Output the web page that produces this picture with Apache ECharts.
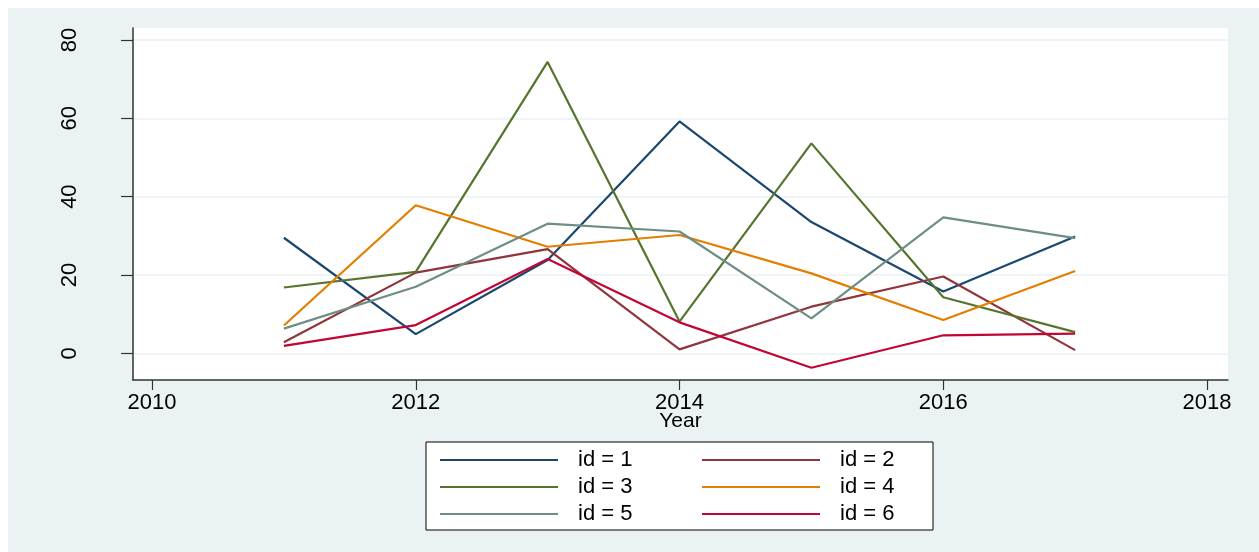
<!DOCTYPE html>
<html>
<head>
<meta charset="utf-8">
<script src="https://cdn.jsdelivr.net/npm/echarts@6/dist/echarts.min.js"></script>
<style>
html,body{margin:0;padding:0;background:#fff;}
#chart{width:1259px;height:552px;}
</style>
</head>
<body>
<div id="chart"></div>
<script>
const years = [2011, 2012, 2013, 2014, 2015, 2016, 2017];
const seriesNames = ['id = 1', 'id = 2', 'id = 3', 'id = 4', 'id = 5', 'id = 6'];
const id1 = [29.5, 4.9, 23.8, 59.2, 33.5, 15.8, 29.8];
const id2 = [2.8, 20.6, 26.6, 1.0, 11.9, 19.6, 0.8];
const id3 = [16.8, 20.8, 74.4, 8.1, 53.6, 14.3, 5.4];
const id4 = [7.1, 37.8, 27.2, 30.2, 20.4, 8.5, 21.0];
const id5 = [6.3, 17.0, 33.1, 31.1, 8.9, 34.7, 29.4];
const id6 = [1.9, 7.2, 24.1, 7.9, -3.7, 4.6, 5.0];
const xTicks = [2010, 2012, 2014, 2016, 2018];
const yTicks = [0, 20, 40, 60, 80];
const colors = ['#1a476f', '#90353b', '#55752f', '#e37e00', '#6e8e84', '#c10534'];

const allValues = [id1, id2, id3, id4, id5, id6];
const series = allValues.map((vals, i) => ({
  name: seriesNames[i],
  type: 'line',
  symbol: 'none',
  showSymbol: false,
  data: years.map((y, j) => [y, vals[j]]),
  lineStyle: { width: 2.2, color: colors[i] },
  itemStyle: { color: colors[i] },
  z: 3
}));

const FONT = 'Liberation Sans, Arial, sans-serif';
const chart = echarts.init(document.getElementById('chart'), null, { renderer: 'canvas' });
const legendCommon = {
  orient: 'vertical',
  top: 449,
  icon: 'rect',
  itemWidth: 118,
  itemHeight: 2,
  itemGap: 5,
  padding: 0,
  z: 10,
  textStyle: { fontFamily: FONT, fontSize: 22, lineHeight: 22, color: '#000', padding: [0, 0, 0, 15] }
};
chart.setOption({
  animation: false,
  backgroundColor: '#fff',
  color: colors,
  graphic: [
    { type: 'rect', z: -100, shape: { x: 8, y: 8, width: 1251, height: 544 }, style: { fill: '#eaf2f3' } },
    { type: 'rect', z: 1, shape: { x: 426, y: 442, width: 507, height: 88 }, style: { fill: '#fff', stroke: '#000', lineWidth: 1 } }
  ],
  grid: { left: 133, right: 31, top: 28, bottom: 172, show: true, backgroundColor: '#fff', borderWidth: 0, containLabel: false },
  legend: [
    Object.assign({}, legendCommon, { left: 440, data: [seriesNames[0], seriesNames[2], seriesNames[4]] }),
    Object.assign({}, legendCommon, { left: 702, data: [seriesNames[1], seriesNames[3], seriesNames[5]] })
  ],
  xAxis: {
    type: 'value',
    min: 2009.856,
    max: 2018.159,
    name: 'Year',
    nameLocation: 'middle',
    nameGap: 31,
    nameMoveOverlap: false,
    nameTextStyle: { fontFamily: FONT, fontSize: 21, color: '#000' },
    axisLine: { show: true, onZero: false, lineStyle: { color: '#333', width: 1.5 } },
    axisTick: { show: true, length: 10, customValues: xTicks, lineStyle: { color: '#333', width: 1.2 } },
    axisLabel: { customValues: xTicks, margin: 12, fontFamily: FONT, fontSize: 22, color: '#000', formatter: v => String(v) },
    splitLine: { show: false }
  },
  yAxis: {
    type: 'value',
    min: -6.82,
    max: 83.06,
    axisLine: { show: true, onZero: false, lineStyle: { color: '#333', width: 1.5 } },
    axisTick: { show: true, length: 12, customValues: yTicks, lineStyle: { color: '#333', width: 1.2 } },
    axisLabel: { customValues: yTicks, rotate: 90, margin: 63, fontFamily: FONT, fontSize: 22, color: '#000', align: 'center', verticalAlign: 'middle' },
    splitLine: { show: true, lineStyle: { color: '#eaf2f3', width: 1.5 } }
  },
  series: series
});
</script>
</body>
</html>
